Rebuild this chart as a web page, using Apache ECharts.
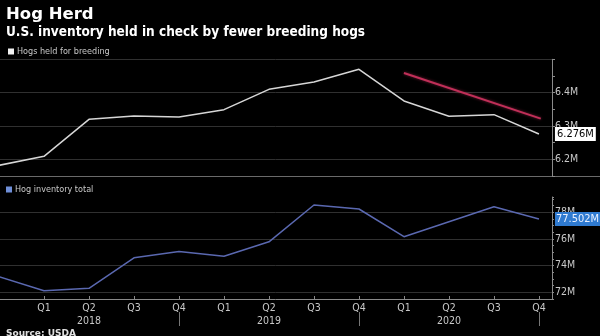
<!DOCTYPE html>
<html>
<head>
<meta charset="utf-8">
<script src="https://cdn.jsdelivr.net/npm/echarts@6/dist/echarts.min.js"></script>
<style>
  html, body { margin: 0; padding: 0; background: #000; }
  #chart { width: 600px; height: 336px; }
</style>
</head>
<body>
<div id="chart"></div>
<script>
// Quarterly USDA hog counts, Q4 2017 through Q4 2020
const quarters = ['Q4', 'Q1', 'Q2', 'Q3', 'Q4', 'Q1', 'Q2', 'Q3', 'Q4', 'Q1', 'Q2', 'Q3', 'Q4'];
const years    = ['2017', '2018', '2018', '2018', '2018', '2019', '2019', '2019', '2019', '2020', '2020', '2020', '2020'];

// Hogs held for breeding, millions
const breeding = [6.182, 6.209, 6.320, 6.330, 6.327, 6.349, 6.410, 6.432, 6.470, 6.375, 6.329, 6.334, 6.276];
// Total hog inventory, millions
const inventory = [73.17, 72.12, 72.30, 74.59, 75.07, 74.70, 75.79, 78.55, 78.25, 76.17, 77.30, 78.42, 77.502];

// Year-end quarters that get a separator under the axis labels
const yearEnds = [4, 8, 12];

// Trend arrow over the last year of breeding stock: [quarter index, value]
const trendStart = [9, 6.459];
const trendEnd = [12.04, 6.322];

const FONT = 'DejaVu Sans';
const FONT_NARROW = 'DejaVu Sans Condensed';
const GRID_COLOR = '#303030';
const AXIS_COLOR = '#8a8a8a';
const LABEL_COLOR = '#c8c8c8';

const toPairs = arr => arr.map((v, i) => [i, v]);
const xMax = 12.29;

const chart = echarts.init(document.getElementById('chart'), null, { renderer: 'canvas' });

const quarterLabel = v => {
  if (Math.abs(v - Math.round(v)) > 1e-6) return '';
  const i = Math.round(v);
  if (i <= 0 || i >= quarters.length) return '';
  return quarters[i] === 'Q2' ? quarters[i] + '\n' + years[i] : quarters[i];
};

chart.setOption({
  animation: false,
  backgroundColor: '#000',
  title: [
    {
      text: 'Hog Herd',
      left: 1, top: 1,
      textStyle: { color: '#fff', fontFamily: FONT, fontWeight: 'bold', fontSize: 16.5 }
    },
    {
      text: 'U.S. inventory held in check by fewer breeding hogs',
      left: 1, top: 20,
      textStyle: { color: '#fff', fontFamily: FONT_NARROW, fontWeight: 'bold', fontSize: 13.5 }
    },
    {
      text: 'Source: USDA',
      left: 1, top: 324,
      textStyle: { color: '#e0e0e0', fontFamily: FONT, fontWeight: 'bold', fontSize: 9 }
    }
  ],
  legend: [
    {
      data: [{ name: 'Hogs held for breeding', itemStyle: { color: '#f2f2f2' } }],
      left: 3, top: 42,
      icon: 'rect', itemWidth: 6, itemHeight: 6, itemGap: 4,
      textStyle: { color: LABEL_COLOR, fontFamily: FONT_NARROW, fontSize: 9, padding: [0, 0, 0, -2] }
    },
    {
      data: [{ name: 'Hog inventory total', itemStyle: { color: '#6f8fd8' } }],
      left: 1, top: 180,
      icon: 'rect', itemWidth: 6, itemHeight: 6, itemGap: 4,
      textStyle: { color: LABEL_COLOR, fontFamily: FONT_NARROW, fontSize: 9, padding: [0, 0, 0, -2] }
    }
  ],
  grid: [
    { left: -1, right: 48, top: 59.3, height: 116.7, outerBoundsMode: 'none', containLabel: false },
    { left: -1, right: 48, top: 197, height: 102, outerBoundsMode: 'none', containLabel: false }
  ],
  xAxis: [
    {
      gridIndex: 0, type: 'value', min: 0, max: xMax, interval: 1, position: 'bottom',
      axisLine: { show: false, onZero: false }, axisTick: { show: false },
      axisLabel: { show: false }, splitLine: { show: false }
    },
    {
      gridIndex: 1, type: 'value', min: 0, max: xMax, interval: 1, position: 'bottom',
      axisLine: { show: true, onZero: false, lineStyle: { color: AXIS_COLOR, width: 1 } },
      axisTick: { show: true, inside: true, length: 3, lineStyle: { color: AXIS_COLOR } },
      axisLabel: {
        color: LABEL_COLOR, fontFamily: FONT_NARROW, fontSize: 10.5, lineHeight: 13, margin: 3,
        showMaxLabel: false, formatter: quarterLabel
      },
      splitLine: { show: false }
    },
    {
      // year separators under each Q4 label
      gridIndex: 1, type: 'value', min: 0, max: xMax, interval: 4, position: 'bottom', offset: 13,
      axisLine: { show: false, onZero: false },
      axisTick: { show: true, length: 14, customValues: yearEnds, lineStyle: { color: '#777' } },
      axisLabel: { show: false }, splitLine: { show: false }
    }
  ],
  yAxis: [
    {
      gridIndex: 0, type: 'value', position: 'right', min: 6.15, max: 6.5, interval: 0.05,
      axisLine: { show: true, onZero: false, lineStyle: { color: AXIS_COLOR } },
      axisTick: { show: true, length: 3, lineStyle: { color: AXIS_COLOR } },
      axisLabel: {
        color: LABEL_COLOR, fontFamily: FONT_NARROW, fontSize: 10.5, margin: 3,
        formatter: v => Math.abs(v * 10 - Math.round(v * 10)) < 1e-6 && v < 6.45 ? v.toFixed(1) + 'M' : ''
      },
      splitLine: { show: true, lineStyle: { color: ['transparent', GRID_COLOR], width: 1 } }
    },
    {
      gridIndex: 1, type: 'value', position: 'right', min: 71.5, max: 79.15, interval: 0.5,
      axisLine: { show: true, onZero: false, lineStyle: { color: AXIS_COLOR } },
      axisTick: { show: true, length: 2, lineStyle: { color: AXIS_COLOR } },
      axisLabel: {
        color: LABEL_COLOR, fontFamily: FONT_NARROW, fontSize: 10.5, margin: 3,
        formatter: v => Math.abs(v / 2 - Math.round(v / 2)) < 1e-6 ? v + 'M' : ''
      },
      splitLine: { show: true, lineStyle: { color: ['transparent', GRID_COLOR, 'transparent', 'transparent'], width: 1 } }
    }
  ],
  series: [
    {
      name: 'Hogs held for breeding',
      type: 'line', xAxisIndex: 0, yAxisIndex: 0,
      data: toPairs(breeding),
      showSymbol: false, symbol: 'none',
      lineStyle: { color: '#d6d6d6', width: 1.5 },
      itemStyle: { color: '#d6d6d6' },
      endLabel: {
        show: true, distance: 16,
        formatter: p => p.value[1].toFixed(3) + 'M',
        backgroundColor: '#ffffff', color: '#000', padding: [2, 2, 1, 2],
        fontFamily: FONT_NARROW, fontSize: 11
      },
      markLine: {
        silent: true,
        symbol: ['none', 'arrow'], symbolSize: [0, 11],
        label: { show: false },
        lineStyle: { color: '#c02f58', width: 2, type: 'solid', shadowBlur: 3, shadowColor: 'rgba(192,47,88,0.6)' },
        data: [[{ coord: trendStart }, { coord: trendEnd }]]
      }
    },
    {
      name: 'Hog inventory total',
      type: 'line', xAxisIndex: 1, yAxisIndex: 1,
      data: toPairs(inventory),
      showSymbol: false, symbol: 'none',
      lineStyle: { color: '#5a68b0', width: 1.5 },
      itemStyle: { color: '#5a68b0' },
      endLabel: {
        show: true, distance: 16,
        formatter: p => p.value[1].toFixed(3) + 'M',
        backgroundColor: '#2f7ad0', color: '#e8f0ff', padding: [2, 1, 1, 1],
        fontFamily: FONT_NARROW, fontSize: 11
      }
    }
  ],
  graphic: [
    {
      // panel separator
      type: 'line', silent: true,
      shape: { x1: 0, y1: 176.5, x2: 600, y2: 176.5 },
      style: { stroke: '#6a6a6a', lineWidth: 1 }
    }
  ]
});
</script>
</body>
</html>
